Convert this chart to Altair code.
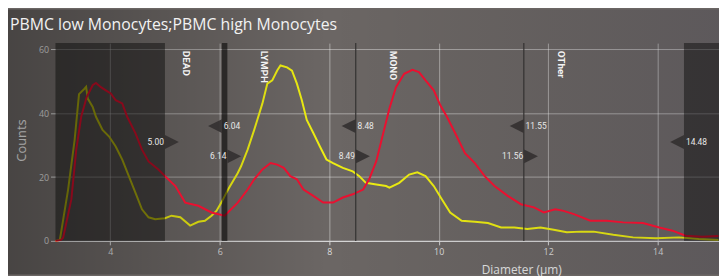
import altair as alt
import pandas as pd

# ---------------- data ----------------
low_x = [3.00, 3.08, 3.23, 3.35, 3.43, 3.53, 3.56, 3.59, 3.68, 3.74, 3.86, 3.98, 4.10, 4.22, 4.34,
         4.46, 4.58, 4.70, 4.82, 5.00, 5.12, 5.28, 5.46, 5.61, 5.73, 5.85, 5.94, 6.03, 6.15, 6.33,
         6.39, 6.51, 6.63, 6.78, 6.87, 6.96, 7.05, 7.11, 7.23, 7.32, 7.41, 7.50, 7.59, 7.71, 7.83,
         7.95, 8.07, 8.25, 8.43, 8.55, 8.67, 8.86, 9.04, 9.10, 9.28, 9.46, 9.61, 9.76, 9.91, 10.06,
         10.21, 10.42, 10.66, 10.90, 11.14, 11.38, 11.62, 11.86, 12.10, 12.34, 12.60, 12.83, 13.19,
         13.55, 13.97, 14.39, 14.75, 15.11]
low_y = [0, 0.3, 16, 31.7, 46, 47.7, 48.3, 44.6, 42, 38.9, 34.8, 32.7, 29.6, 25.5, 20.3,
         15.1, 9.9, 7.4, 6.8, 7.1, 7.9, 7.4, 4.8, 6.0, 6.3, 7.9, 9.4, 12, 16, 21.3,
         23.4, 28.6, 34.8, 43.1, 49.3, 50.3, 53.4, 55, 54.4, 53.4, 49.3, 44.1, 37.9, 33.8, 29.6,
         25.5, 24.4, 22.9, 21.8, 20.3, 18.2, 17.7, 17.2, 16.7, 18.2, 20.8, 21.5, 20.3, 17.2, 13,
         8.9, 6.3, 6.0, 5.6, 4.2, 4.2, 3.7, 4.2, 3.5, 2.7, 2.9, 2.9, 1.9,
         1.1, 0.8, 1.1, 0.6, 0.3]

high_x = [3.00, 3.10, 3.14, 3.29, 3.38, 3.47, 3.57, 3.68, 3.74, 3.83, 3.92, 4.01, 4.10, 4.22, 4.31,
          4.46, 4.58, 4.70, 4.88, 5.00, 5.19, 5.37, 5.61, 5.85, 6.09, 6.33, 6.51, 6.63, 6.78, 6.93,
          7.05, 7.17, 7.29, 7.41, 7.53, 7.71, 7.89, 8.07, 8.25, 8.43, 8.62, 8.73, 8.86, 8.98, 9.10,
          9.22, 9.37, 9.52, 9.64, 9.76, 9.91, 10.03, 10.15, 10.30, 10.48, 10.66, 10.84, 11.02, 11.26,
          11.50, 11.74, 11.92, 12.13, 12.28, 12.47, 12.77, 13.07, 13.37, 13.73, 14.03, 14.27, 14.51,
          14.81, 15.11]
high_y = [0, 0.3, 1, 13, 28.6, 38.9, 45.1, 48.8, 49.5, 48.2, 47.2, 46.2, 44.1, 43.1, 38.9,
          33.8, 28.6, 24.9, 22.4, 20.3, 17.2, 12, 11, 8.9, 7.9, 12, 16.1, 19.3, 22.4, 24.4,
          23.9, 22.9, 20.3, 19.3, 16.1, 14.1, 12, 12, 13.6, 14.6, 16.1, 19.3, 25, 33.3, 41.5,
          48.2, 52.4, 53.6, 52.9, 50.3, 47.2, 42.5, 38.9, 33.8, 27.5, 24.4, 20.3, 17.2, 14.1,
          11.5, 10.5, 8.9, 9.9, 9.4, 8.4, 6.3, 6.3, 5.8, 5.6, 4.2, 3.2, 1.6,
          1.3, 1.5]

shade_start = [3.0, 14.48]
shade_end = [5.0, 15.12]
band_start = [6.04]
band_end = [6.14]
gate_lines = [8.485, 11.555]

marker_x = [5.00, 6.04, 6.14, 8.48, 8.49, 11.55, 11.56, 14.48]
marker_label = ["5.00", "6.04", "6.14", "8.48", "8.49", "11.55", "11.56", "14.48"]
marker_dir = ["right", "left", "right", "left", "right", "left", "right", "left"]
marker_y = [31, 36, 26.5, 36, 26.5, 36, 26.5, 31]

gate_names = ["DEAD", "LYMPH", "MONO", "OTher"]
gate_name_x = [5.38, 6.80, 9.17, 12.24]
gate_name_y = [59.6, 59.6, 59.6, 59.6]

x_ticks = [4, 6, 8, 10, 12, 14]
y_ticks = [0, 10, 20, 30, 40, 50, 60]

TITLE = "PBMC low Monocytes;PBMC high Monocytes"

# ---------------- layout ----------------
W, H = 671, 200
PAD_L, PAD_T, PAD_B = 48, 34, 34
YEL = "#eeee12"
RED = "#ea1030"
LABEL_C = "#dcdcdc"

x_scale = alt.Scale(domain=[3.0, 15.12], nice=False, zero=False)
y_scale = alt.Scale(domain=[0, 62], nice=False, zero=False)

Y_MAJOR = "abs(datum.value/20 - round(datum.value/20)) < 0.001"

x_axis = alt.Axis(
    values=x_ticks, format="d",
    tickSize=4, gridOpacity=0.42, gridColor="#ffffff", gridWidth=1,
    domainColor="#d6d6d6", domainWidth=1.5, tickColor="#d6d6d6",
    labelColor=LABEL_C, labelFontSize=9, labelFont="Open Sans", labelPadding=3,
    labelFlush=False,
    title="Diameter (µm)", titleX=471, titleY=33, titleAlign="center",
    titleBaseline="alphabetic", titleColor="#e6e6e6", titleFontSize=12,
    titleFont="Open Sans", titleFontWeight="normal",
)
y_axis = alt.Axis(
    values=y_ticks,
    labelExpr=f"({Y_MAJOR}) ? datum.label : ''",
    tickSize={"condition": {"test": Y_MAJOR, "value": 5}, "value": 3},
    gridOpacity={"condition": {"test": f"({Y_MAJOR}) && datum.value > 0", "value": 0.42}, "value": 0},
    gridColor="#ffffff", gridWidth=1,
    domain=False, tickColor="#d6d6d6",
    labelColor=LABEL_C, labelFontSize=9, labelFont="Open Sans", labelPadding=2,
    title="Counts", titleX=-34, titleY=98, titleAngle=270, titleAlign="center",
    titleBaseline="middle", titleColor="#eeeeee", titleFontSize=13,
    titleFont="Open Sans", titleFontWeight="normal",
)

bg = alt.Chart(pd.DataFrame({"k": [0]})).mark_rect(
    fill=alt.Gradient(
        gradient="linear",
        stops=[
            alt.GradientStop(offset=0, color="rgba(0,0,0,0.33)"),
            alt.GradientStop(offset=0.45, color="rgba(0,0,0,0)"),
            alt.GradientStop(offset=1, color="rgba(10,10,40,0.14)"),
        ],
        x1=0, x2=1, y1=0, y2=0,
    ),
    strokeWidth=0,
).encode(x=alt.value(-PAD_L), x2=alt.value(W), y=alt.value(-PAD_T), y2=alt.value(H + PAD_B))

title_txt = alt.Chart(pd.DataFrame({"t": [TITLE]})).mark_text(
    align="left", baseline="alphabetic", fontSize=16, font="Open Sans", color="#f2f2f2"
).encode(x=alt.value(-46), y=alt.value(-13.5), text="t:N")

df_low = pd.DataFrame({"diameter": low_x, "count": low_y})
df_high = pd.DataFrame({"diameter": high_x, "count": high_y})

line_low = alt.Chart(df_low).mark_line(color=YEL, strokeWidth=2).encode(
    x=alt.X("diameter:Q", scale=x_scale, axis=x_axis),
    y=alt.Y("count:Q", scale=y_scale, axis=y_axis),
)
line_high = alt.Chart(df_high).mark_line(color=RED, strokeWidth=2).encode(
    x=alt.X("diameter:Q", scale=x_scale),
    y=alt.Y("count:Q", scale=y_scale),
)

shades = alt.Chart(pd.DataFrame({"s": shade_start, "e": shade_end})).mark_rect(
    color="#000000", opacity=0.42
).encode(
    x=alt.X("s:Q", scale=x_scale), x2="e:Q",
    y=alt.value(0), y2=alt.value("height"),
)
band = alt.Chart(pd.DataFrame({"s": band_start, "e": band_end})).mark_rect(
    color="#000000", opacity=0.55
).encode(
    x=alt.X("s:Q", scale=x_scale), x2="e:Q",
    y=alt.value(0), y2=alt.value("height"),
)
rules = alt.Chart(pd.DataFrame({"g": gate_lines})).mark_rule(
    color="#333131", strokeWidth=1.2
).encode(x=alt.X("g:Q", scale=x_scale))

markers = pd.DataFrame({"x": marker_x, "label": marker_label, "dir": marker_dir, "y": marker_y})
m_right = markers[markers["dir"] == "right"]
m_left = markers[markers["dir"] == "left"]

TRI_R = "M-1,-1L1,0L-1,1Z"
TRI_L = "M1,-1L-1,0L1,1Z"


def enc():
    return dict(
        x=alt.X("x:Q", scale=x_scale),
        y=alt.Y("y:Q", scale=y_scale),
    )


tri_r = alt.Chart(m_right).mark_point(
    shape=TRI_R, size=196, filled=True, color="#343131", opacity=0.92, xOffset=7
).encode(**enc())
tri_l = alt.Chart(m_left).mark_point(
    shape=TRI_L, size=196, filled=True, color="#343131", opacity=0.92, xOffset=-7
).encode(**enc())
txt_r = alt.Chart(m_right).mark_text(
    align="right", baseline="middle", dx=-1, color="#e8e8e8", fontSize=8.5, font="Roboto"
).encode(text="label:N", **enc())
txt_l = alt.Chart(m_left).mark_text(
    align="left", baseline="middle", dx=2, color="#e8e8e8", fontSize=8.5, font="Roboto"
).encode(text="label:N", **enc())

names = alt.Chart(pd.DataFrame({"x": gate_name_x, "y": gate_name_y, "name": gate_names})).mark_text(
    angle=90, align="left", baseline="middle", color="#f4f4f4", fontSize=10,
    font="Roboto", fontWeight="bold",
).encode(text="name:N", **enc())

chart = alt.layer(
    line_low, bg, line_high, shades, band, rules, tri_r, tri_l, txt_r, txt_l, names, title_txt
).properties(
    width=W, height=H,
    autosize=alt.AutoSizeParams(type="none"),
    padding={"left": PAD_L, "top": PAD_T, "right": 0, "bottom": PAD_B},
    background="#6b6664",
).configure_view(strokeWidth=0)

chart.save("out.html", embed_options={"renderer": "svg", "actions": False})
